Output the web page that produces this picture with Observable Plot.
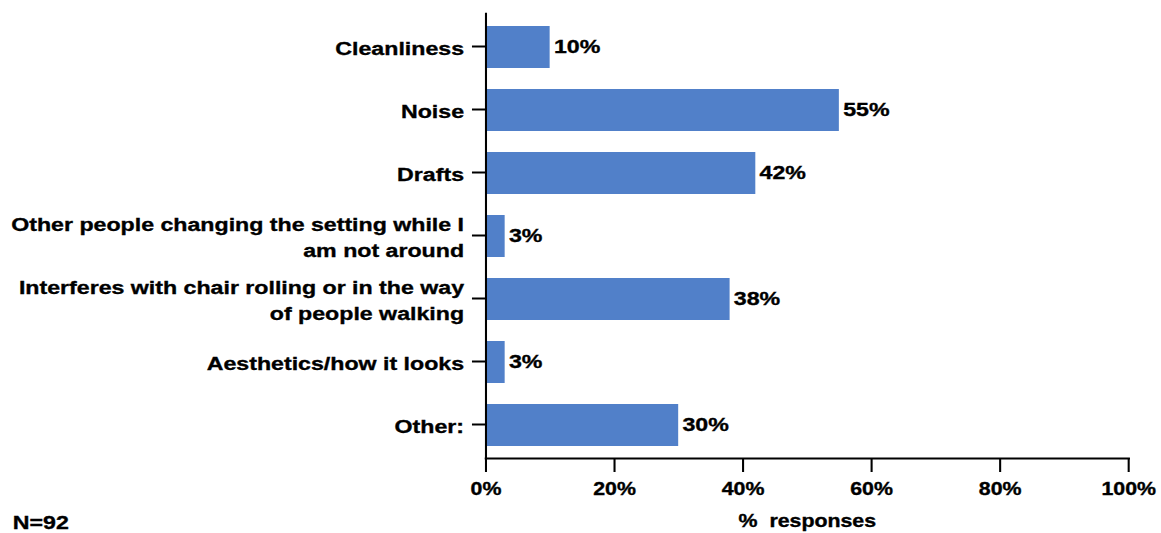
<!DOCTYPE html>
<html>
<head>
<meta charset="utf-8">
<script src="https://cdn.jsdelivr.net/npm/d3@7"></script>
<script src="https://cdn.jsdelivr.net/npm/@observablehq/plot@0.6"></script>
<style>
  html, body { margin: 0; padding: 0; background: #fff; }
  #chart { width: 1161px; height: 533px; overflow: hidden; }
  #chart svg text { stroke: #000; stroke-width: 0.35px; }
</style>
</head>
<body>
<div id="chart"></div>
<script>
const categories = [
  "Cleanliness",
  "Noise",
  "Drafts",
  "Other people changing the setting while I\nam not around",
  "Interferes with chair rolling or in the way\nof people walking",
  "Aesthetics/how it looks",
  "Other:"
];
const percents = [10, 55, 42, 3, 38, 3, 30];
const xTicks = [0, 20, 40, 60, 80, 100];
const xLabel = "%  responses";
const sampleNote = "N=92";

const data = categories.map((c, i) => ({category: c, value: percents[i]}));

// The reference is horizontally stretched; draw in a narrower space and stretch.
const stretch = 1.22;
const outerW = 1161, H = 533;
const W = Math.round(outerW / stretch);
const font = "'Liberation Sans', Arial, sans-serif";

const chart = Plot.plot({
  width: W,
  height: H,
  marginLeft: 398,
  marginRight: 27,
  marginTop: 13,
  marginBottom: 75,
  style: {fontFamily: font, fontWeight: "bold", fontSize: "19px", color: "#000", background: "#fff", overflow: "visible"},
  x: {domain: [0, 100]},
  y: {domain: categories, paddingInner: 0.34, paddingOuter: 0.17},
  marks: [
    Plot.barX(data, {x: "value", y: "category", fill: "#5180C9"}),
    Plot.text(data, {x: "value", y: "category", text: d => d.value + "%", textAnchor: "start", dx: 3, dy: -1, fill: "#000", fontWeight: "bold", fontSize: 19}),
    Plot.frame({anchor: "left", stroke: "#000", strokeWidth: 1.7}),
    Plot.frame({anchor: "bottom", stroke: "#000", strokeWidth: 2}),
    Plot.axisY({tickSize: 11, tickPadding: 7, strokeWidth: 2, label: null, lineHeight: 1.37, fontSize: 19, dy: -1}),
    Plot.axisX({ticks: xTicks, tickSize: 14, tickPadding: 10, strokeWidth: 1.7, tickFormat: d => d + "%", fontSize: 17.5,
      label: xLabel, labelAnchor: "center", labelArrow: "none", labelOffset: 68}),
    Plot.text([sampleNote], {frameAnchor: "bottom-left", text: d => d, textAnchor: "start", lineAnchor: "bottom", dx: -388, dy: 70, fontSize: 19, fontWeight: "bold", fill: "#000"})
  ]
});

chart.setAttribute("width", outerW);
chart.setAttribute("height", H);
chart.setAttribute("viewBox", `0 0 ${W} ${H}`);
chart.setAttribute("preserveAspectRatio", "none");
chart.style.maxWidth = "none";
document.getElementById("chart").appendChild(chart);
</script>
</body>
</html>
